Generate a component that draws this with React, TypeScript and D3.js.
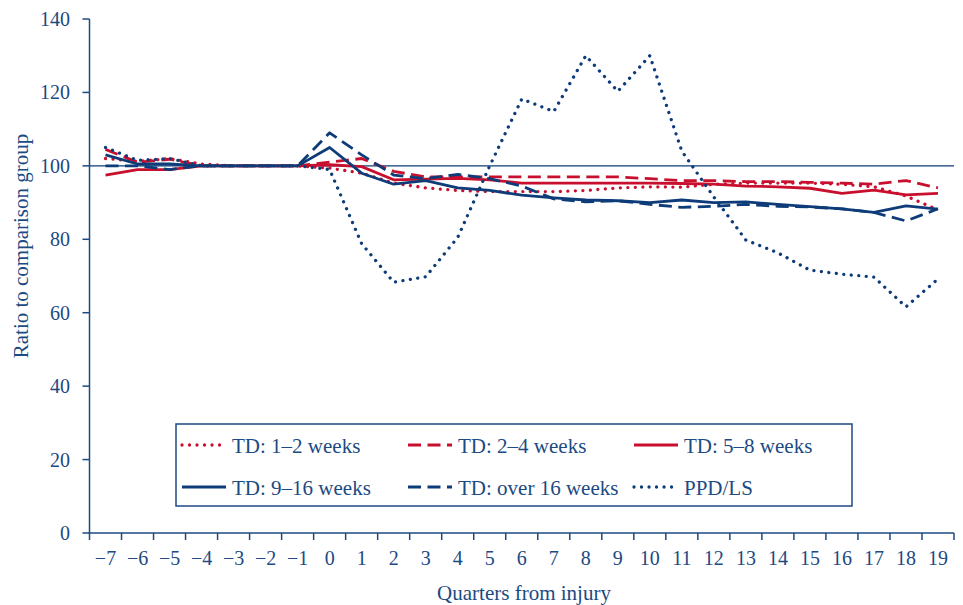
import React from "react";
import * as d3 from "d3";

const quarters = [-7, -6, -5, -4, -3, -2, -1, 0, 1, 2, 3, 4, 5, 6, 7, 8, 9, 10, 11, 12, 13, 14, 15, 16, 17, 18, 19];
const yTicks = [0, 20, 40, 60, 80, 100, 120, 140];

const td1to2 = [102, 101.2, 102, 100.5, 100, 100, 100, 99.4, 98, 95.3, 94, 93.3, 93, 93, 93, 93.3, 94, 94.3, 94.2, 95, 95.3, 95.3, 95.3, 95, 94.3, 91.8, 88];
const td2to4 = [104.5, 101, 101.8, 100, 100, 100, 100, 101, 102, 98.5, 97, 97, 97, 97, 97, 97, 97, 96.5, 96, 96, 95.7, 95.7, 95.5, 95.3, 95, 96, 94];
const td5to8 = [97.5, 99, 99, 100, 100, 100, 100, 100.3, 99.8, 96.2, 96.4, 96.6, 96.2, 95.3, 95.3, 95.3, 95.3, 95.3, 95.2, 95, 94.5, 94.3, 93.9, 92.5, 93.4, 92.1, 92.5];
const td9to16 = [103, 100.5, 100.5, 100, 100, 100, 100, 105, 98, 95, 96, 94, 93.3, 92, 91.3, 90.7, 90.5, 90, 90.7, 90, 90.2, 89.5, 88.9, 88.3, 87.3, 89.1, 88.2];
const tdOver16 = [100, 100, 99, 100, 100, 100, 100, 109, 103, 97.5, 96.5, 97.7, 96.5, 94.5, 91, 90.2, 90.5, 89.5, 88.7, 89, 89.5, 89, 88.8, 88.3, 87.3, 85, 88.3];
const ppdLs = [105, 101.5, 102, 100, 100, 100, 100, 99, 78.8, 68.3, 69.8, 80.5, 100, 118.2, 114.8, 130, 120.3, 130, 104, 91.5, 79.8, 76.3, 71.6, 70.5, 69.7, 61.6, 69.2];

const RED = "#c8102e";
const NAVY = "#0d3c78";
const TEXT = "#1c4a82";
const FONT = "'Liberation Serif', 'Times New Roman', serif";

const DOT = "0.01 7.5";
const DASH = "13 6.5";

const seriesList = [
  { name: "TD: 1\u20132 weeks", values: td1to2, color: RED, dash: DOT },
  { name: "TD: 2\u20134 weeks", values: td2to4, color: RED, dash: DASH },
  { name: "TD: 5\u20138 weeks", values: td5to8, color: RED, dash: null },
  { name: "TD: 9\u201316 weeks", values: td9to16, color: NAVY, dash: null },
  { name: "TD: over 16 weeks", values: tdOver16, color: NAVY, dash: DASH },
  { name: "PPD/LS", values: ppdLs, color: NAVY, dash: DOT },
];

const fmt = (v: number) => (v < 0 ? "\u2212" + Math.abs(v) : String(v));

export default function App() {
  const left = 89.5;
  const right = 954;
  const top = 19;
  const bottom = 533;

  const x = d3.scaleBand<number>().domain(quarters).range([left, right]).padding(0);
  const y = d3.scaleLinear().domain([0, 140]).range([bottom, top]);
  const cx = (q: number) => (x(q) as number) + x.bandwidth() / 2;

  const line = d3
    .line<[number, number]>()
    .x((d) => cx(d[0]))
    .y((d) => y(d[1]))
    .curve(d3.curveLinear);

  const boundaries = quarters.map((q) => x(q) as number).concat([right]);

  const legendCols = [182, 408, 634];
  const legendRows = [445, 487];

  return (
    <svg
      width={963}
      height={605}
      style={{ position: "absolute", left: 0, top: 0, background: "#fff" }}
      fontFamily={FONT}
    >
      <rect x={0} y={0} width={963} height={605} fill="#fff" />
      {/* reference line at 100 */}
      <line x1={left} x2={right} y1={y(100)} y2={y(100)} stroke={NAVY} strokeWidth={1.3} />

      {/* series */}
      {seriesList.map((s) => (
        <path
          key={s.name}
          d={line(quarters.map((q, i) => [q, s.values[i]] as [number, number])) || ""}
          fill="none"
          stroke={s.color}
          strokeWidth={s.dash === DOT ? 3.3 : 2.8}
          strokeDasharray={s.dash || undefined}
          strokeLinecap={s.dash === DOT ? "round" : "butt"}
          strokeLinejoin="round"
        />
      ))}

      {/* y axis */}
      <line x1={left} x2={left} y1={top} y2={bottom} stroke={TEXT} strokeWidth={1.5} />
      {yTicks.map((t) => (
        <g key={t}>
          <line x1={left - 7} x2={left} y1={y(t)} y2={y(t)} stroke={TEXT} strokeWidth={1.5} />
          <text
            x={70}
            y={y(t)}
            textAnchor="end"
            dominantBaseline="central"
            fontSize={20}
            fill={TEXT}
          >
            {t}
          </text>
        </g>
      ))}
      <text
        transform={`translate(21, ${246}) rotate(-90)`}
        textAnchor="middle"
        dominantBaseline="central"
        fontSize={21}
        fill={TEXT}
      >
        Ratio to comparison group
      </text>

      {/* x axis */}
      <line x1={left - 1} x2={right} y1={bottom} y2={bottom} stroke={TEXT} strokeWidth={1.5} />
      {boundaries.map((b, i) => (
        <line key={i} x1={b} x2={b} y1={bottom} y2={bottom + 7} stroke={TEXT} strokeWidth={1.5} />
      ))}
      {quarters.map((q) => (
        <text
          key={q}
          x={cx(q)}
          y={565}
          textAnchor="middle"
          fontSize={20}
          fill={TEXT}
        >
          {fmt(q)}
        </text>
      ))}
      <text x={524} y={600} textAnchor="middle" fontSize={21} fill={TEXT}>
        Quarters from injury
      </text>

      {/* legend */}
      <rect x={176} y={424} width={676} height={82} fill="#fff" stroke={TEXT} strokeWidth={1.5} />
      {seriesList.map((s, i) => {
        const col = i % 3;
        const row = Math.floor(i / 3);
        const lx = legendCols[col];
        const ly = legendRows[row];
        return (
          <g key={s.name}>
            <line
              x1={lx}
              x2={lx + 44}
              y1={ly}
              y2={ly}
              stroke={s.color}
              strokeWidth={s.dash === DOT ? 3.3 : 2.8}
              strokeDasharray={s.dash || undefined}
              strokeLinecap={s.dash === DOT ? "round" : "butt"}
            />
            <text x={lx + 50} y={ly + 8} fontSize={21} fill={TEXT}>
              {s.name}
            </text>
          </g>
        );
      })}
    </svg>
  );
}
